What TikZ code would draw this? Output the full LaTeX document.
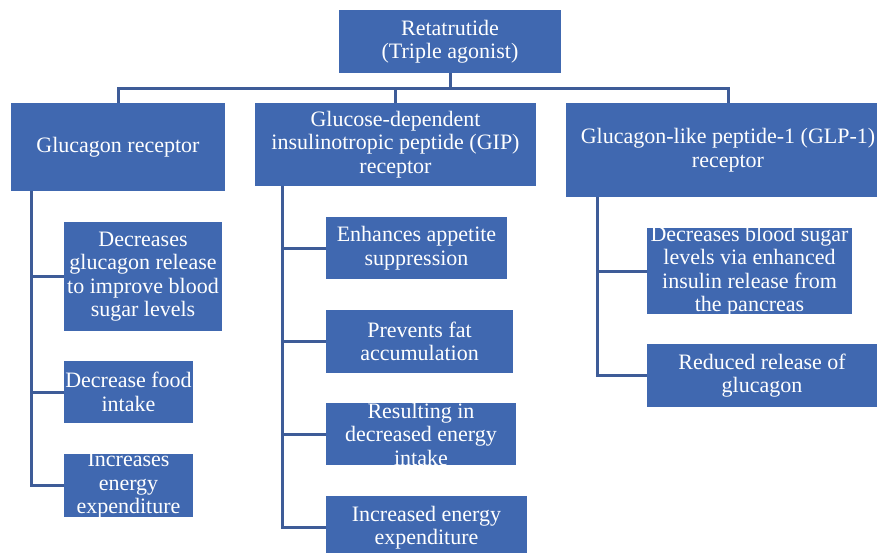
\documentclass[tikz,border=0pt]{standalone}
\usepackage{fontspec}
\setmainfont{Liberation Serif}
\definecolor{boxblue}{HTML}{4068B0}
\definecolor{linkblue}{HTML}{3E5C98}
\begin{document}
\begin{tikzpicture}[x=1pt,y=-1pt,
  box/.style={rectangle, fill=boxblue, draw=none, inner sep=0pt, outer sep=0pt},
  txt/.style={text=white, align=center, font=\fontsize{22}{23.5}\selectfont, inner sep=0pt},
  link/.style={draw=linkblue, line width=3pt, line join=miter}]
\clip (0,0) rectangle (877,552);
\fill[white] (0,0) rectangle (877,552);
% level 0
\node[box, minimum width=222pt, minimum height=63pt] (top) at (450,41.5) {};
% level 1
\node[box, minimum width=214pt, minimum height=88pt] (r1) at (118,147) {};
\node[box, minimum width=281pt, minimum height=83pt] (r2) at (395.5,144.5) {};
\node[box, minimum width=324pt, minimum height=94pt] (r3) at (728,150) {};
% level 2 left
\node[box, minimum width=158pt, minimum height=109pt] (c11) at (143,276.5) {};
\node[box, minimum width=129pt, minimum height=62pt] (c12) at (128.5,392) {};
\node[box, minimum width=129pt, minimum height=63pt] (c13) at (128.5,485.5) {};
% level 2 middle
\node[box, minimum width=181pt, minimum height=62pt] (c21) at (416.5,248) {};
\node[box, minimum width=187pt, minimum height=63pt] (c22) at (419.5,341.5) {};
\node[box, minimum width=190pt, minimum height=62pt] (c23) at (421,434) {};
\node[box, minimum width=201pt, minimum height=63pt] (c24) at (426.5,527.5) {};
% level 2 right
\node[box, minimum width=205pt, minimum height=86pt] (c31) at (749.5,271) {};
\node[box, minimum width=230pt, minimum height=63pt] (c32) at (762,375.5) {};
% texts
\node[txt] (ttop) at (top) {Retatrutide\\(Triple agonist)};
\node[txt] (tr1) at (r1) {Glucagon receptor};
\node[txt] (tr2) at (r2) {Glucose-dependent\\insulinotropic peptide (GIP)\\receptor};
\node[txt] (tr3) at (r3) {Glucagon-like peptide-1 (GLP-1)\\receptor};
\node[txt] (tc11) at (c11) {Decreases\\glucagon release\\to improve blood\\sugar levels};
\node[txt] (tc12) at (c12) {Decrease food\\intake};
\node[txt] (tc13) at (c13) {Increases\\energy\\expenditure};
\node[txt] (tc21) at (c21) {Enhances appetite\\suppression};
\node[txt] (tc22) at (c22) {Prevents fat\\accumulation};
\node[txt] (tc23) at (c23) {Resulting in\\decreased energy\\intake};
\node[txt] (tc24) at (c24) {Increased energy\\expenditure};
\node[txt] (tc31) at (c31) {Decreases blood sugar\\levels via enhanced\\insulin release from\\the pancreas};
\node[txt] (tc32) at (c32) {Reduced release of\\glucagon};
% connectors top
\coordinate (bus) at (450,88);
\draw[link] (top.south) -- (bus);
\draw[link] (r1.north) |- (bus) -| (r3.north);
\draw[link] (bus) -| (r2.north);
% left tree
\coordinate (lt) at (31,191);
\draw[link] (lt) |- (c13.west);
\draw[link] (lt |- c11.west) -- (c11.west);
\draw[link] (lt |- c12.west) -- (c12.west);
% middle tree
\coordinate (mt) at (282,186);
\draw[link] (mt) |- (c24.west);
\draw[link] (mt |- c21.west) -- (c21.west);
\draw[link] (mt |- c22.west) -- (c22.west);
\draw[link] (mt |- c23.west) -- (c23.west);
% right tree
\coordinate (rt) at (597,197);
\draw[link] (rt) |- (c32.west);
\draw[link] (rt |- c31.west) -- (c31.west);
\end{tikzpicture}
\end{document}
